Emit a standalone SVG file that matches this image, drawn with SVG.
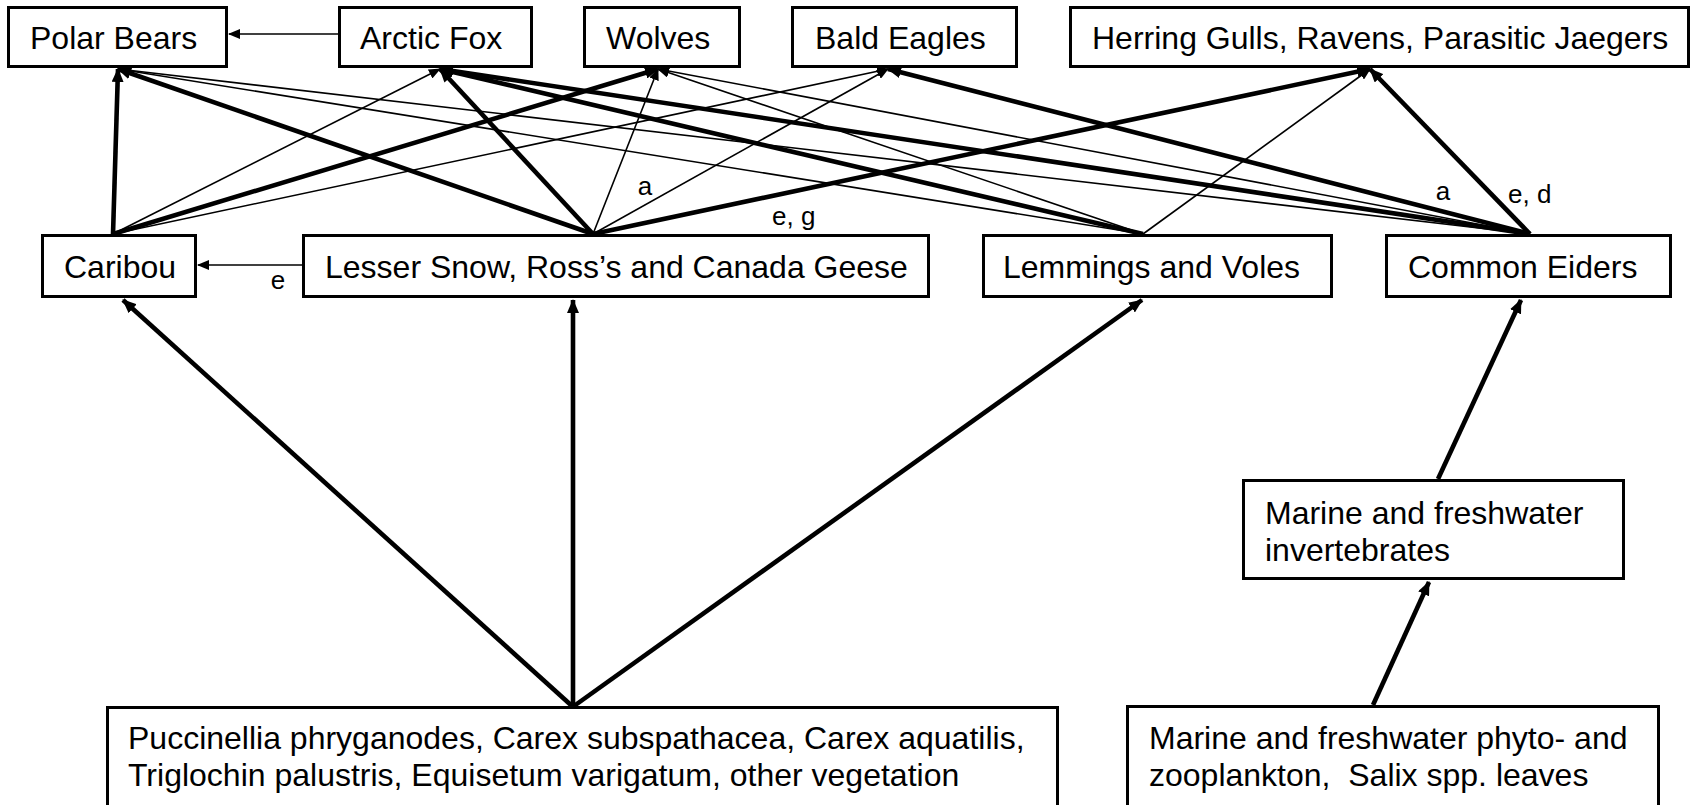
<svg xmlns="http://www.w3.org/2000/svg" width="1698" height="805" viewBox="0 0 1698 805">
<style>
.box{fill:#fff;stroke:#000;stroke-width:3}
.t{font-family:"Liberation Sans",Arial,sans-serif;font-size:32px;fill:#000}
.lb{font-family:"Liberation Sans",Arial,sans-serif;font-size:26px;fill:#000}
.thick{stroke:#000;stroke-width:4.6;fill:none;marker-end:url(#ah)}
.thin{stroke:#000;stroke-width:1.6;fill:none;marker-end:url(#aht)}
</style>
<defs>
<marker id="ah" viewBox="0 0 14 12" refX="13" refY="6" markerWidth="14" markerHeight="12" markerUnits="userSpaceOnUse" orient="auto"><path d="M0,0 L14,6 L0,12 z" fill="#000"/></marker>
<marker id="aht" viewBox="0 0 12 10" refX="11" refY="5" markerWidth="12" markerHeight="10" markerUnits="userSpaceOnUse" orient="auto"><path d="M0,0 L12,5 L0,10 z" fill="#000"/></marker>
</defs>
<rect width="1698" height="805" fill="#fff"/>
<g id="connectors">
<line class="thick" x1="113" y1="234" x2="118" y2="69"/>
<line class="thin" x1="113" y1="234" x2="440" y2="69"/>
<line class="thick" x1="113" y1="234" x2="658" y2="69"/>
<line class="thin" x1="113" y1="234" x2="888" y2="69"/>
<line class="thick" x1="593" y1="234" x2="118" y2="69"/>
<line class="thick" x1="593" y1="234" x2="440" y2="69"/>
<line class="thin" x1="593" y1="234" x2="658" y2="69"/>
<line class="thin" x1="593" y1="234" x2="888" y2="69"/>
<line class="thick" x1="593" y1="234" x2="1370" y2="69"/>
<line class="thin" x1="302" y1="265" x2="198" y2="265"/>
<line class="thin" x1="1143" y1="234" x2="118" y2="69"/>
<line class="thick" x1="1143" y1="234" x2="440" y2="69"/>
<line class="thin" x1="1143" y1="234" x2="658" y2="69"/>
<line class="thin" x1="1143" y1="234" x2="1370" y2="69"/>
<line class="thin" x1="1530" y1="234" x2="118" y2="69"/>
<line class="thick" x1="1530" y1="234" x2="440" y2="69"/>
<line class="thin" x1="1530" y1="234" x2="658" y2="69"/>
<line class="thick" x1="1530" y1="234" x2="888" y2="69"/>
<line class="thick" x1="1530" y1="234" x2="1370" y2="69"/>
<line class="thin" x1="338" y1="34" x2="229" y2="34"/>
<line class="thick" x1="572" y1="706" x2="123" y2="300"/>
<line class="thick" x1="573" y1="706" x2="573" y2="300"/>
<line class="thick" x1="574" y1="706" x2="1142" y2="300"/>
<line class="thick" x1="1438" y1="479" x2="1521" y2="300"/>
<line class="thick" x1="1373" y1="705" x2="1429" y2="582"/>
<text class="lb" x="278" y="289" text-anchor="middle">e</text>
<text class="lb" x="645" y="195" text-anchor="middle">a</text>
<text class="lb" x="772" y="225">e, g</text>
<text class="lb" x="1443" y="200" text-anchor="middle">a</text>
<text class="lb" x="1508" y="203">e, d</text>
</g>
<g id="polar-bears"><rect class="box" x="8.5" y="7.5" width="218" height="59"/><text class="t" x="30" y="49">Polar Bears</text></g>
<g id="arctic-fox"><rect class="box" x="339.5" y="7.5" width="192" height="59"/><text class="t" x="360" y="49">Arctic Fox</text></g>
<g id="wolves"><rect class="box" x="584.5" y="7.5" width="155" height="59"/><text class="t" x="606" y="49">Wolves</text></g>
<g id="bald-eagles"><rect class="box" x="792.5" y="7.5" width="224" height="59"/><text class="t" x="815" y="49">Bald Eagles</text></g>
<g id="herring-gulls"><rect class="box" x="1070.5" y="7.5" width="618" height="59"/><text class="t" x="1092" y="49">Herring Gulls, Ravens, Parasitic Jaegers</text></g>
<g id="caribou"><rect class="box" x="42.5" y="235.5" width="153" height="61"/><text class="t" x="64" y="278">Caribou</text></g>
<g id="geese"><rect class="box" x="303.5" y="235.5" width="625" height="61"/><text class="t" x="325" y="278">Lesser Snow, Ross’s and Canada Geese</text></g>
<g id="lemmings"><rect class="box" x="983.5" y="235.5" width="348" height="61"/><text class="t" x="1003" y="278">Lemmings and Voles</text></g>
<g id="eiders"><rect class="box" x="1386.5" y="235.5" width="284" height="61"/><text class="t" x="1408" y="278">Common Eiders</text></g>
<g id="invertebrates"><rect class="box" x="1243.5" y="480.5" width="380" height="98"/><text class="t" x="1265" y="524">Marine and freshwater</text><text class="t" x="1265" y="561">invertebrates</text></g>
<g id="vegetation"><rect class="box" x="107.5" y="707.5" width="950" height="120"/><text class="t" x="128" y="749">Puccinellia phryganodes, Carex subspathacea, Carex aquatilis,</text><text class="t" x="128" y="786">Triglochin palustris, Equisetum varigatum, other vegetation</text></g>
<g id="plankton"><rect class="box" x="1127.5" y="706.5" width="531" height="120"/><text class="t" x="1149" y="749">Marine and freshwater phyto- and</text><text class="t" x="1149" y="786" xml:space="preserve">zooplankton,  Salix spp. leaves</text></g>
</svg>
